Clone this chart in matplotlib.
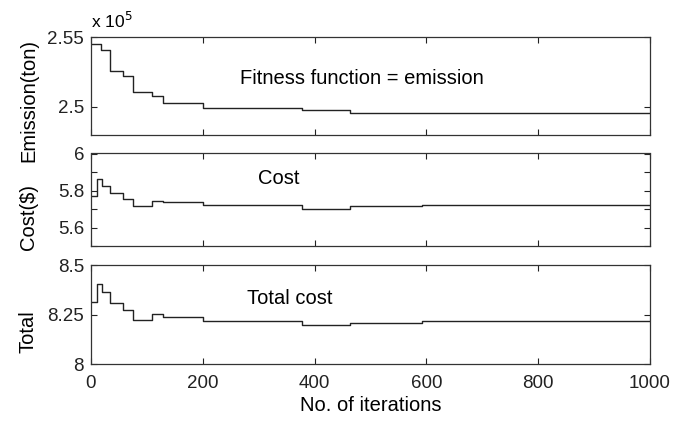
import matplotlib
matplotlib.use("Agg")
import matplotlib.pyplot as plt
from matplotlib.ticker import FixedLocator, FixedFormatter

plt.rcParams['font.family'] = ['Liberation Sans', 'DejaVu Sans']

# iteration breakpoints (step changes) and values
emis_it = [0, 17, 34, 58, 76, 109, 129, 200, 377, 463, 592, 1000]
emis_val = [2.5448, 2.5407, 2.5257, 2.5221, 2.5107, 2.5080, 2.5026, 2.4990, 2.4979, 2.4959, 2.4955, 2.4955]  # x 1e5 ton

cost_it = [0, 10, 19, 34, 58, 76, 109, 129, 200, 377, 463, 592, 1000]
cost_val = [5.768, 5.863, 5.825, 5.786, 5.754, 5.714, 5.745, 5.736, 5.720, 5.700, 5.714, 5.723, 5.723]

total_it = [0, 11, 19, 34, 58, 76, 109, 129, 200, 377, 463, 592, 1000]
total_val = [8.311, 8.404, 8.362, 8.307, 8.273, 8.222, 8.251, 8.236, 8.217, 8.197, 8.209, 8.217, 8.217]

xticks = [0, 200, 400, 600, 800, 1000]

W, H = 682, 423
fig = plt.figure(figsize=(W/100, H/100), dpi=100)

def box(top, bottom):
    return [91/W, 1-bottom/H, (650-91)/W, (bottom-top)/H]

ax1 = fig.add_axes(box(37, 135))
ax2 = fig.add_axes(box(153.5, 246))
ax3 = fig.add_axes(box(265, 364))

tfs = 13.5
lfs = 14.5
lc = '#222222'
for ax, it, val in [(ax1, emis_it, emis_val), (ax2, cost_it, cost_val), (ax3, total_it, total_val)]:
    ax.step(it, val, where='post', color=lc, lw=1.0)
    ax.set_xlim(0, 1000)
    ax.xaxis.set_major_locator(FixedLocator(xticks))
    ax.tick_params(direction='in', top=True, right=True, length=4, width=0.8,
                   labelsize=tfs, colors='#222222')
    ax.tick_params(axis='x', pad=8)
    ax.tick_params(axis='y', pad=5)
    for s in ax.spines.values():
        s.set_linewidth(0.9)
        s.set_color('#333333')
    if ax is not ax3:
        ax.set_xticklabels([])

lx = (38 - 91) / 559

ax1.set_ylim(2.48, 2.55)
ax1.yaxis.set_major_locator(FixedLocator([2.5, 2.55]))
ax1.yaxis.set_major_formatter(FixedFormatter(['2.5', '2.55']))
ax1.set_ylabel('Emission(ton)', fontsize=lfs)
ax1.yaxis.set_label_coords(lx, (135 - 100) / 98)
ax1.text(0.0, 1.06, r'x 10$^{5}$', transform=ax1.transAxes, fontsize=12.5, ha='left', va='bottom')
ax1.text(485, 2.5207, 'Fitness function = emission', fontsize=lfs, ha='center', va='center')

ax2.set_ylim(5.5, 6.0)
ax2.yaxis.set_major_locator(FixedLocator([5.5, 5.6, 5.7, 5.8, 5.9, 6.0]))
ax2.yaxis.set_major_formatter(FixedFormatter(['', '5.6', '', '5.8', '', '6']))
ax2.set_ylabel('Cost($)', fontsize=lfs)
ax2.yaxis.set_label_coords(lx, (246 - 217) / 92.5)
ax2.text(335, 5.863, 'Cost', fontsize=lfs, ha='center', va='center')

ax3.set_ylim(8.0, 8.5)
ax3.yaxis.set_major_locator(FixedLocator([8.0, 8.25, 8.5]))
ax3.yaxis.set_major_formatter(FixedFormatter(['8', '8.25', '8.5']))
ax3.set_ylabel('Total', fontsize=lfs)
ax3.yaxis.set_label_coords(lx, (364 - 332) / 99)
ax3.text(356, 8.333, 'Total cost', fontsize=lfs, ha='center', va='center')
ax3.set_xlabel('No. of iterations', fontsize=lfs, labelpad=3)

fig.savefig('out.png', dpi=100)
